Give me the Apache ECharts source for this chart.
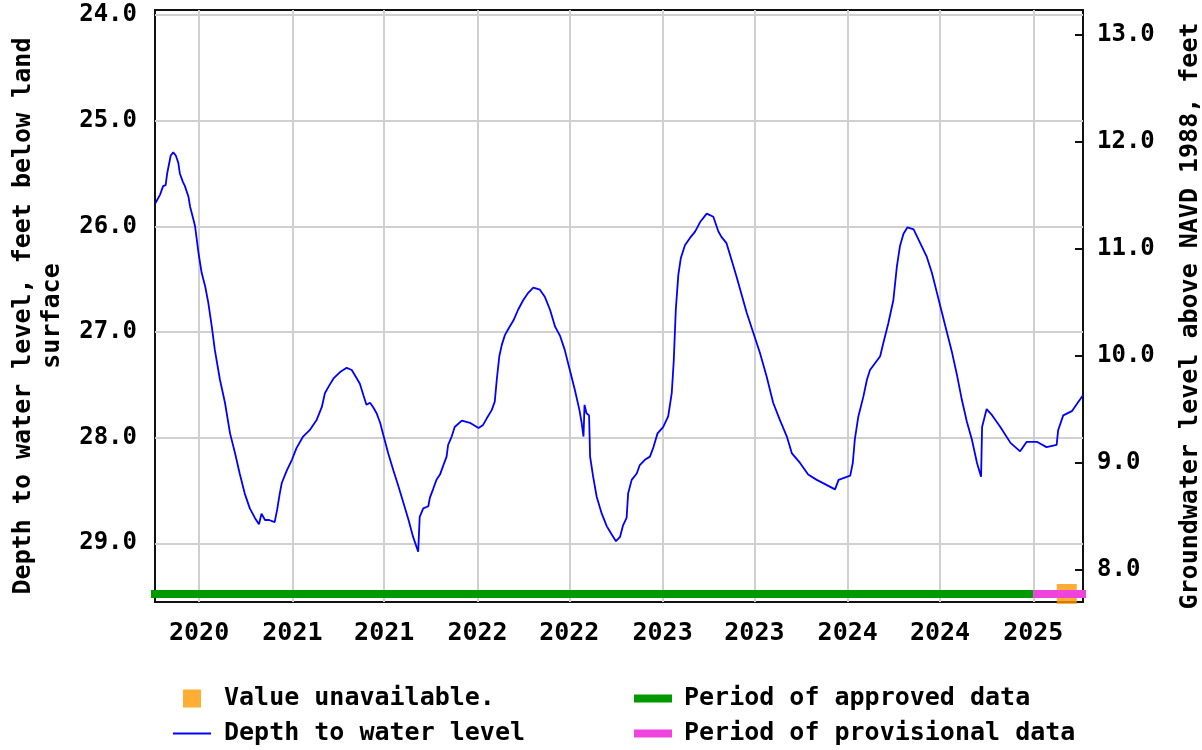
<!DOCTYPE html>
<html>
<head>
<meta charset="utf-8">
<script src="https://cdn.jsdelivr.net/npm/echarts@6/dist/echarts.min.js"></script>
<style>
  html, body { margin: 0; padding: 0; background: #fff; }
  #chart { width: 1202px; height: 750px; }
</style>
</head>
<body>
<div id="chart"></div>
<script>
// depth to water level, feet below land surface
const dates = [
  '2020-04-06','2020-04-15','2020-04-21','2020-04-26','2020-04-29','2020-05-06','2020-05-11','2020-05-16',
  '2020-05-21','2020-05-24','2020-05-30','2020-06-03','2020-06-10','2020-06-13','2020-06-20','2020-06-23',
  '2020-06-30','2020-07-06','2020-07-13','2020-07-19','2020-07-26','2020-08-01','2020-08-11','2020-08-21',
  '2020-08-31','2020-09-10','2020-09-19','2020-09-29','2020-10-09','2020-10-19','2020-10-27','2020-11-01',
  '2020-11-08','2020-11-16','2020-11-27','2020-12-02','2020-12-07','2020-12-11','2020-12-21','2020-12-31',
  '2021-01-09','2021-01-22','2021-02-04','2021-02-18','2021-02-28','2021-03-06','2021-03-13','2021-03-23',
  '2021-04-05','2021-04-18','2021-04-28','2021-05-08','2021-05-14','2021-05-21','2021-05-27','2021-06-03',
  '2021-06-09','2021-06-16','2021-06-23','2021-06-29','2021-07-09','2021-07-19','2021-07-29','2021-08-08',
  '2021-08-18','2021-08-27','2021-09-06','2021-09-09','2021-09-16','2021-09-26','2021-09-29','2021-10-06',
  '2021-10-12','2021-10-19','2021-10-25','2021-11-01','2021-11-04','2021-11-11','2021-11-17','2021-12-01',
  '2021-12-17','2022-01-03','2022-01-12','2022-01-19','2022-01-29','2022-02-04','2022-02-08','2022-02-13',
  '2022-02-18','2022-02-24','2022-03-03','2022-03-13','2022-03-22','2022-04-01','2022-04-11','2022-04-21',
  '2022-05-04','2022-05-14','2022-05-24','2022-06-03','2022-06-13','2022-06-22','2022-07-02','2022-07-12',
  '2022-07-21','2022-07-25','2022-07-29','2022-07-31','2022-08-04','2022-08-09','2022-08-11','2022-08-17',
  '2022-08-24','2022-09-03','2022-09-13','2022-09-23','2022-10-01','2022-10-09','2022-10-15','2022-10-22',
  '2022-10-25','2022-11-01','2022-11-11','2022-11-17','2022-11-27','2022-12-07','2022-12-14','2022-12-22',
  '2023-01-02','2023-01-12','2023-01-19','2023-01-23','2023-01-27','2023-02-01','2023-02-06','2023-02-14',
  '2023-02-24','2023-03-06','2023-03-16','2023-03-29','2023-04-11','2023-04-21','2023-04-27','2023-05-07',
  '2023-05-17','2023-05-27','2023-06-06','2023-06-16','2023-06-29','2023-07-12','2023-07-25','2023-08-07',
  '2023-08-20','2023-09-03','2023-09-13','2023-09-29','2023-10-15','2023-11-01','2023-11-21','2023-12-07',
  '2023-12-14','2024-01-06','2024-01-11','2024-01-15','2024-01-22','2024-02-01','2024-02-08','2024-02-14',
  '2024-03-05','2024-03-11','2024-03-21','2024-03-31','2024-04-07','2024-04-13','2024-04-20','2024-04-28',
  '2024-05-10','2024-05-23','2024-06-05','2024-06-15','2024-06-25','2024-07-05','2024-07-15','2024-07-25',
  '2024-08-04','2024-08-13','2024-08-23','2024-09-02','2024-09-12','2024-09-20','2024-09-22','2024-10-01',
  '2024-10-12','2024-10-28','2024-11-17','2024-12-06','2024-12-19','2025-01-08','2025-01-27','2025-02-16',
  '2025-02-19','2025-03-01','2025-03-18','2025-03-31','2025-04-09'
];
const depth = [
  25.78, 25.70, 25.62, 25.61, 25.50, 25.33, 25.30, 25.33,
  25.40, 25.50, 25.58, 25.62, 25.72, 25.81, 25.94, 26.00,
  26.26, 26.44, 26.57, 26.72, 26.95, 27.17, 27.45, 27.67,
  27.96, 28.15, 28.34, 28.53, 28.67, 28.76, 28.82, 28.72,
  28.78, 28.78, 28.80, 28.68, 28.53, 28.43, 28.31, 28.21,
  28.10, 27.99, 27.93, 27.83, 27.71, 27.58, 27.52, 27.44,
  27.38, 27.34, 27.36, 27.44, 27.49, 27.60, 27.69, 27.67,
  27.71, 27.77, 27.86, 27.97, 28.15, 28.31, 28.46, 28.62,
  28.78, 28.94, 29.08, 28.75, 28.67, 28.65, 28.57, 28.48,
  28.40, 28.35, 28.27, 28.18, 28.07, 27.99, 27.90, 27.84,
  27.86, 27.91, 27.88, 27.82, 27.74, 27.66, 27.45, 27.23,
  27.12, 27.03, 26.97, 26.89, 26.79, 26.70, 26.63, 26.58,
  26.60, 26.67, 26.79, 26.95, 27.04, 27.17, 27.36, 27.55,
  27.74, 27.85, 27.99, 27.69, 27.77, 27.79, 28.18, 28.37,
  28.56, 28.72, 28.84, 28.92, 28.98, 28.94, 28.83, 28.76,
  28.53, 28.40, 28.34, 28.26, 28.21, 28.18, 28.09, 27.96,
  27.90, 27.80, 27.58, 27.27, 26.79, 26.46, 26.30, 26.18,
  26.11, 26.05, 25.96, 25.88, 25.91, 26.05, 26.10, 26.16,
  26.32, 26.48, 26.65, 26.82, 27.01, 27.20, 27.42, 27.67,
  27.83, 27.99, 28.15, 28.24, 28.35, 28.40, 28.45, 28.49,
  28.40, 28.36, 28.24, 28.02, 27.80, 27.61, 27.45, 27.36,
  27.23, 27.11, 26.92, 26.70, 26.38, 26.19, 26.07, 26.01,
  26.03, 26.16, 26.29, 26.44, 26.63, 26.82, 27.01, 27.20,
  27.42, 27.64, 27.85, 28.02, 28.24, 28.37, 27.90, 27.73,
  27.79, 27.90, 28.05, 28.13, 28.04, 28.04, 28.09, 28.07,
  27.93, 27.79, 27.75, 27.66, 27.60
];

const approvedPeriod = ['2020-03-28', '2025-01-01'];
const provisionalPeriod = ['2025-01-01', '2025-04-15'];
const unavailableDates = ['2025-03-08'];

const xTicks = ['2020-07-01','2021-01-01','2021-07-01','2022-01-01','2022-07-01',
                '2023-01-01','2023-07-01','2024-01-01','2024-07-01','2025-01-01'];
const depthTicks = [24, 25, 26, 27, 28, 29];
const elevTicks = [8, 9, 10, 11, 12, 13];

function t(s) {
  const p = s.split('-').map(Number);
  return new Date(p[0], p[1] - 1, p[2]).getTime();
}

const FONT = 'DejaVu Sans Mono';
const barLevel = 29.48;

const chart = echarts.init(document.getElementById('chart'));

const lineData = dates.map((d, i) => [t(d), depth[i]]);
const xTickValues = xTicks.map(t);

const bold24 = { fontFamily: FONT, fontWeight: 'bold', fontSize: 24, color: '#000' };
const bold25 = { fontFamily: FONT, fontWeight: 'bold', fontSize: 25, color: '#000' };

chart.setOption({
  animation: false,
  backgroundColor: '#fff',
  textStyle: { fontFamily: FONT },
  grid: {
    left: 155, right: 119, top: 10, bottom: 148,
    outerBoundsMode: 'none', containLabel: false,
    show: true, borderColor: '#111', borderWidth: 2, backgroundColor: '#fff'
  },
  legend: [
    {
      orient: 'vertical', left: 173, top: 686, padding: 0,
      itemWidth: 38, itemHeight: 18, itemGap: 10,
      textStyle: Object.assign({ padding: [0, 0, 0, 8] }, bold25),
      data: [
        { name: 'Value unavailable.', icon: 'path://M0,0h10v10h-10z' },
        { name: 'Depth to water level', icon: 'path://M0,0h38v1.8h-38z' }
      ]
    },
    {
      orient: 'vertical', left: 634, top: 686, padding: 0,
      itemWidth: 38, itemHeight: 18, itemGap: 10,
      textStyle: Object.assign({ padding: [0, 0, 0, 7] }, bold25),
      data: [
        { name: 'Period of approved data', icon: 'path://M0,0h38v8h-38z' },
        { name: 'Period of provisional data', icon: 'path://M0,0h38v8h-38z' }
      ]
    }
  ],
  xAxis: {
    type: 'value',
    min: t('2020-04-05'),
    max: t('2025-04-09'),
    axisLine: { show: false },
    axisTick: { show: false, customValues: xTickValues },
    splitLine: { show: true, lineStyle: { color: '#d0d0d0', width: 2 } },
    axisLabel: Object.assign({
      customValues: xTickValues,
      margin: 19,
      formatter: v => String(new Date(v).getFullYear())
    }, bold25)
  },
  yAxis: [
    {
      type: 'value',
      inverse: true,
      min: 23.953, max: 29.556,
      name: 'Depth to water level, feet below land\nsurface',
      nameLocation: 'middle', nameRotate: 90, nameGap: 88,
      nameTextStyle: Object.assign({ lineHeight: 29, padding: [0, 20, 0, 0] }, bold25),
      axisLine: { show: false },
      axisTick: { show: false, customValues: depthTicks },
      splitLine: { show: true, lineStyle: { color: '#d0d0d0', width: 2 } },
      axisLabel: Object.assign({
        customValues: depthTicks, margin: 18,
        formatter: v => v.toFixed(1)
      }, bold24)
    },
    {
      type: 'value',
      position: 'right',
      min: 7.696, max: 13.229,
      name: 'Groundwater level above NAVD 1988, feet',
      nameLocation: 'middle', nameRotate: 90, nameGap: 95,
      nameTextStyle: Object.assign({ padding: [0, 20, 0, 0] }, bold25),
      axisLine: { show: false },
      axisTick: { show: true, inside: true, length: 8, customValues: elevTicks, lineStyle: { color: '#111', width: 2 } },
      splitLine: { show: false },
      axisLabel: Object.assign({
        customValues: elevTicks, margin: 14,
        formatter: v => v.toFixed(1)
      }, bold24)
    }
  ],
  series: [
    {
      name: 'Period of approved data',
      type: 'line', yAxisIndex: 0, symbol: 'none', clip: false, z: 3,
      color: '#009900',
      lineStyle: { color: '#009900', width: 8 },
      data: approvedPeriod.map(d => [t(d), barLevel])
    },
    {
      name: 'Value unavailable.',
      type: 'scatter', yAxisIndex: 0, clip: false, z: 3,
      symbol: 'rect', symbolSize: [20, 20],
      itemStyle: { color: '#ff9900' },
      data: unavailableDates.map(d => [t(d), barLevel])
    },
    {
      name: 'Period of provisional data',
      type: 'line', yAxisIndex: 0, symbol: 'none', clip: false, z: 4,
      color: '#ee44dd',
      lineStyle: { color: '#ee44dd', width: 8 },
      data: provisionalPeriod.map(d => [t(d), barLevel])
    },
    {
      name: 'Depth to water level',
      type: 'line', yAxisIndex: 0, symbol: 'none', z: 5,
      color: '#0000ff',
      lineStyle: { color: '#0000ff', width: 1.8 },
      data: lineData
    }
  ]
});
</script>
</body>
</html>
